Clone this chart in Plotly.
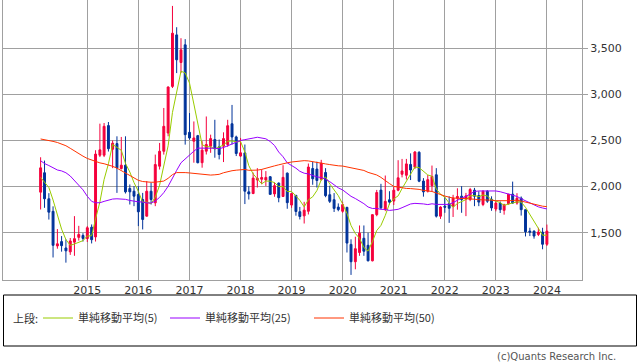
import plotly.graph_objects as go
import pandas as pd

# ---- data (monthly candles, Feb 2014 - Jan 2024) ----
months = pd.date_range("2014-02-01", periods=120, freq="MS")

opens = [1940, 2150, 1868, 1732, 1357, 1404, 1335, 1293, 1398, 1450,
         1471, 1437, 1560, 1455, 2340, 2340, 2661, 2405, 2466, 2196,
         2232, 1979, 1950, 1914, 1860, 1680, 1950, 1824, 2221, 2383,
         2581, 3086, 3644, 3345, 3536, 2588, 2492, 2552, 2259, 2384,
         2438, 2510, 2431, 2438, 2456, 2681, 2538, 2331, 2365, 1943,
         1925, 2072, 2080, 2071, 2107, 1921, 2038, 1893, 2146, 1800,
         1905, 1728, 1683, 1733, 2196, 2190, 2079, 2153, 1912, 1858,
         1778, 1733, 1775, 1374, 1186, 1286, 1440, 1364, 1196, 1696,
         1962, 1755, 1857, 1843, 1961, 2134, 2123, 2240, 2210, 2372,
         2060, 1950, 2010, 2128, 1679, 1788, 1815, 1786, 1875, 1896,
         1867, 1860, 1961, 1903, 1806, 1950, 1862, 1757, 1821, 1743,
         1814, 1918, 1821, 1875, 1750, 1518, 1518, 1482, 1507, 1375]
highs = [2318, 2282, 1929, 1786, 1540, 1464, 1429, 1443, 1680, 1575,
         1495, 1572, 1590, 2394, 2682, 2689, 2700, 2500, 2545, 2538,
         2545, 2023, 2005, 2005, 1932, 2059, 2041, 2347, 2473, 2852,
         3086, 3958, 3727, 3608, 3598, 2797, 2706, 2560, 2492, 2760,
         2563, 2724, 2510, 2588, 2724, 2885, 2552, 2527, 2456, 2005,
         2152, 2200, 2187, 2168, 2114, 2045, 2045, 2232, 2153, 1930,
         1910, 1780, 1835, 2250, 2268, 2270, 2290, 2200, 2010, 1930,
         1818, 1835, 1781, 1429, 1457, 1579, 1579, 1500, 1700, 1964,
         2030, 2120, 1950, 1996, 2286, 2300, 2300, 2360, 2385, 2383,
         2092, 2125, 2228, 2200, 1786, 1889, 1895, 1911, 1982, 2005,
         1932, 1986, 1986, 1950, 1961, 1961, 1895, 1839, 1839, 1814,
         1918, 2054, 1929, 1893, 1750, 1554, 1525, 1554, 1554, 1589]
lows = [1752, 1770, 1643, 1232, 1327, 1295, 1176, 1260, 1250, 1415,
        1405, 1400, 1384, 1405, 2320, 2320, 2380, 2200, 1932, 2185,
        1925, 1806, 1788, 1572, 1536, 1675, 1806, 1788, 2185, 2347,
        2545, 3068, 3230, 3230, 2455, 2509, 2259, 2252, 2205, 2348,
        2366, 2313, 2295, 2266, 2431, 2456, 2331, 2323, 1811, 1860,
        1918, 1990, 2026, 2007, 1911, 1890, 1830, 1890, 1760, 1770,
        1685, 1644, 1600, 1698, 2020, 1990, 2065, 1885, 1822, 1725,
        1733, 1716, 1286, 1043, 1104, 1250, 1250, 1190, 1190, 1679,
        1755, 1734, 1806, 1800, 1950, 2100, 2077, 2071, 2190, 2048,
        1891, 1936, 1950, 1665, 1650, 1716, 1607, 1671, 1750, 1716,
        1680, 1842, 1788, 1788, 1788, 1824, 1738, 1732, 1714, 1696,
        1804, 1814, 1804, 1686, 1460, 1464, 1436, 1464, 1321, 1357]
closes = [2203, 1868, 1723, 1364, 1380, 1360, 1304, 1411, 1436, 1482,
          1439, 1554, 1425, 2352, 2398, 2653, 2411, 2470, 2203, 2232,
          1943, 1943, 1896, 1727, 1644, 1950, 1860, 2239, 2383, 2653,
          3079, 3662, 3374, 3482, 2563, 2527, 2527, 2259, 2395, 2456,
          2520, 2409, 2348, 2520, 2660, 2538, 2359, 2366, 1950, 1921,
          2092, 2090, 2098, 2100, 1916, 2010, 1880, 2100, 1826, 1925,
          1730, 1676, 1745, 2212, 2085, 2066, 2254, 1902, 1840, 1764,
          1751, 1805, 1388, 1186, 1327, 1495, 1300, 1196, 1696, 1936,
          1770, 1840, 1832, 1961, 2095, 2169, 2246, 2180, 2375, 2059,
          1943, 2075, 2110, 1680, 1779, 1777, 1765, 1875, 1893, 1860,
          1900, 1968, 1896, 1832, 1950, 1842, 1769, 1821, 1750, 1804,
          1918, 1821, 1875, 1750, 1510, 1507, 1464, 1507, 1375, 1518]

# moving-average values before enough in-range closes exist
ma5_head = [2100, 2050, 1990, 1855]
ma25_head = [2280, 2250, 2228, 2200, 2180, 2170, 2150, 2115, 2065, 2015,
             1965, 1895, 1840, 1825, 1825, 1840, 1855, 1865, 1868, 1868,
             1862, 1850, 1840, 1835]
ma50_head = [2516, 2510, 2500, 2490, 2478, 2462, 2443, 2415, 2385, 2355,
             2330, 2305, 2286, 2270, 2257, 2248, 2237, 2220, 2200, 2172,
             2145, 2118, 2092, 2068, 2055, 2048, 2047, 2048, 2052, 2060,
             2090, 2130, 2152, 2155, 2152, 2148, 2142, 2140, 2135, 2128,
             2125, 2128, 2133, 2150, 2162, 2172, 2178, 2182, 2186]

y_ticks = [1500, 2000, 2500, 3000, 3500]
x_ticks = [f"{y}-01-01" for y in range(2015, 2025)]
x_labels = [str(y) for y in range(2015, 2025)]
legend_names = ["単純移動平均(5)", "単純移動平均(25)", "単純移動平均(50)"]


def sma(head, n):
    s = pd.Series(closes).rolling(n).mean().tolist()
    return head + s[len(head):]


ma5 = sma(ma5_head, 5)
ma25 = sma(ma25_head, 25)
ma50 = sma(ma50_head, 50)

RED = "#f5003c"
BLUE = "#00339a"
GRID = "#a0a0a0"
TXT = "#333333"
JP = "Noto Sans CJK JP"

fig = go.Figure()
fig.add_trace(go.Candlestick(
    x=months, open=opens, high=highs, low=lows, close=closes,
    increasing=dict(line=dict(color=RED, width=1), fillcolor=RED),
    decreasing=dict(line=dict(color=BLUE, width=1), fillcolor=BLUE),
    whiskerwidth=0, showlegend=False, hoverinfo="skip"))

for vals, col, name, lg in [(ma5, "#99cc00", legend_names[0], "legend"),
                            (ma25, "#9900ff", legend_names[1], "legend2"),
                            (ma50, "#ff3300", legend_names[2], "legend3")]:
    fig.add_trace(go.Scatter(x=months, y=vals, mode="lines", name=name,
                             line=dict(color=col, width=1), legend=lg,
                             hoverinfo="skip"))

W, H = 638, 362
L, R, T, B = 3, 56, 0, 82
pw = W - L - R
ph = H - T - B


def px(p):
    return (p - L) / pw


def py(p):
    return (T + ph - p) / ph


leg_common = dict(orientation="h", yanchor="middle", xanchor="left",
                  bgcolor="rgba(0,0,0,0)", borderwidth=0,
                  font=dict(family=JP, size=11, color=TXT))

fig.update_layout(
    width=W, height=H, autosize=False,
    margin=dict(l=L, r=R, t=T, b=B, autoexpand=False),
    paper_bgcolor="white", plot_bgcolor="white",
    showlegend=True,
    legend=dict(x=px(38), y=py(318), **leg_common),
    legend2=dict(x=px(165), y=py(318), **leg_common),
    legend3=dict(x=px(309), y=py(318), **leg_common),
    xaxis=dict(type="date", range=["2013-05-08", "2024-09-08"],
               tickvals=x_ticks, ticktext=x_labels,
               showgrid=True, gridcolor=GRID, gridwidth=1,
               showline=True, linecolor=GRID, linewidth=1, mirror=True,
               ticks="", rangeslider=dict(visible=False),
               tickfont=dict(family="DejaVu Sans", size=11, color=TXT),
               zeroline=False),
    yaxis=dict(side="right", range=[988, 4022], tickvals=y_ticks,
               tickformat=",d", showgrid=True, gridcolor=GRID, gridwidth=1,
               showline=True, linecolor=GRID, linewidth=1, mirror=True,
               ticks="outside", ticklen=5, tickcolor=GRID,
               tickfont=dict(family="DejaVu Sans", size=11, color=TXT),
               zeroline=False),
    shapes=[dict(type="rect", xref="paper", yref="paper",
                 x0=px(3.5), x1=px(636.5), y0=py(295), y1=py(346),
                 line=dict(color="black", width=1))],
    annotations=[
        dict(text="上段:", xref="paper", yref="paper", x=px(11), y=py(318),
             xanchor="left", yanchor="middle", showarrow=False,
             font=dict(family=JP, size=11, color=TXT)),
        dict(text="(c)Quants Research Inc.", xref="paper", yref="paper",
             x=px(618), y=py(356), xanchor="right", yanchor="middle",
             showarrow=False,
             font=dict(family="DejaVu Sans", size=10, color="#555555")),
    ],
)

post = ("document.body.style.margin='0px';"
        "document.body.style.padding='0px';"
        "document.body.style.overflow='hidden';"
        "var gd=document.getElementById('{plot_id}');"
        "Plotly.relayout(gd,{width:638,height:362});")

fig.write_html("out.html",
               config={"responsive": False, "displayModeBar": False},
               post_script=post)
